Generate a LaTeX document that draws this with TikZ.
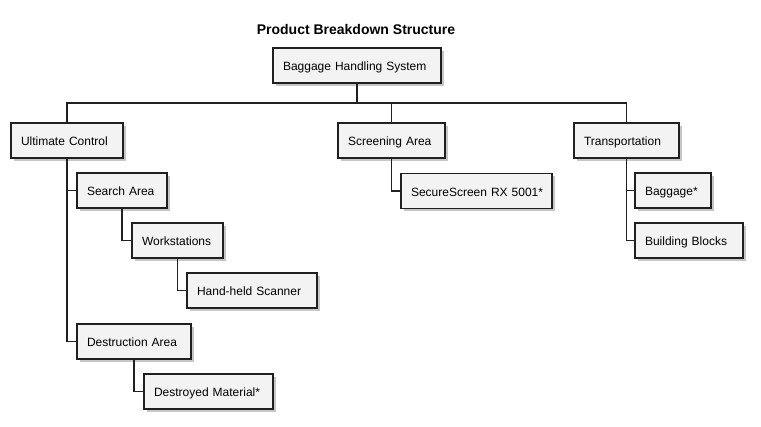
\documentclass[tikz,border=0pt]{standalone}
\usepackage{fontspec}
\setmainfont{Liberation Sans}
\usetikzlibrary{shadows}
\definecolor{boxfill}{HTML}{F3F3F3}
\definecolor{boxline}{HTML}{202020}
\tikzset{
  box/.style={draw=boxline, fill=boxfill, line width=1.2pt, minimum height=35pt,
    inner xsep=10pt, inner ysep=0pt, align=left, text height=11.5pt, text depth=0.5pt,
    font=\fontsize{12pt}{14pt}\selectfont,
    drop shadow={shadow xshift=3pt, shadow yshift=-3pt, fill=black, opacity=0.22}},
  link/.style={draw=boxline, line width=1.2pt},
  titletext/.style={font=\fontsize{14pt}{16pt}\selectfont\bfseries}
}
\begin{document}
\begin{tikzpicture}[x=1pt,y=-1pt]
\useasboundingbox[fill=white] (0,0) rectangle (761,427);
\node[titletext] (title) at (356,30) {Product Breakdown Structure};
\node[box, text width=148] (root) at (357,65.5) {\mbox{Baggage Handling System}};
\node[box, text width=92] (uc) at (67,140.5) {\mbox{Ultimate Control}};
\node[box, text width=87] (scr) at (391.5,140.5) {\mbox{Screening Area}};
\node[box, text width=85] (tr) at (626.5,140.5) {\mbox{Transportation}};
\node[box, text width=70] (sa) at (122,190.5) {\mbox{Search Area}};
\node[box, text width=71] (ws) at (177.5,240.5) {\mbox{Workstations}};
\node[box, text width=110] (hs) at (252,290.5) {\mbox{Hand-held Scanner}};
\node[box, text width=94] (da) at (134,341.5) {\mbox{Destruction Area}};
\node[box, text width=109] (dm) at (208.5,391.5) {\mbox{Destroyed Material*}};
\node[box, text width=131] (ss) at (476.5,191) {\mbox{SecureScreen RX 5001*}};
\node[box, text width=56] (bg) at (673,190.5) {\mbox{Baggage*}};
\node[box, text width=88] (bb) at (689,240.5) {\mbox{Building Blocks}};
\coordinate (bus) at (357,103);
\draw[link] (root.south) -- (root.south |- bus);
\draw[link] (uc.north) |- (bus) -| (tr.north);
\draw[link] (scr.north) -- (scr.north |- bus);
\draw[link] (uc.south) |- (sa.west);
\draw[link] (uc.south) |- (da.west);
\draw[link] (sa.south) |- (ws.west);
\draw[link] (ws.south) |- (hs.west);
\draw[link] (da.south) |- (dm.west);
\draw[link] (scr.south) |- (ss.west);
\draw[link] (tr.south) |- (bg.west);
\draw[link] (tr.south) |- (bb.west);
\end{tikzpicture}
\end{document}
